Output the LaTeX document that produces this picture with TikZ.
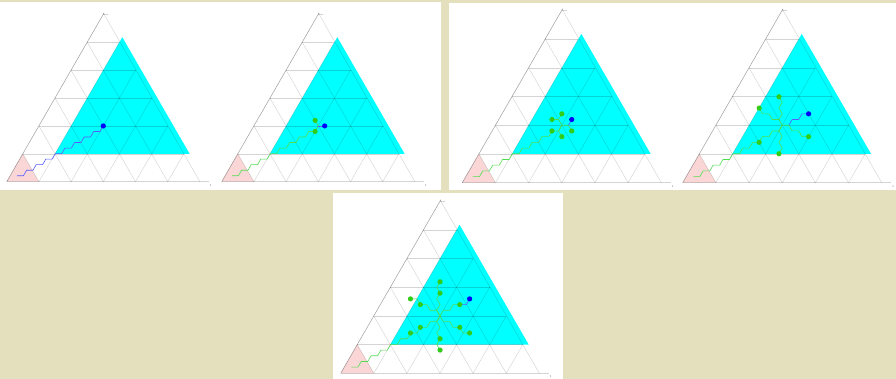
\documentclass[tikz,border=0pt]{standalone}
\usepackage{tikz}
\definecolor{bgbeige}{RGB}{228,224,189}
\definecolor{pinkfill}{RGB}{250,214,214}
\definecolor{cyanfill}{RGB}{0,255,255}
\definecolor{gline}{RGB}{80,222,80}
\definecolor{gdotc}{RGB}{50,205,25}
\definecolor{bline}{RGB}{90,90,255}
\definecolor{bdotc}{RGB}{0,0,255}
\def\tgS{32.2}
\def\tgH{27.886}
\def\wR{-- ++(6.39,0)}
\def\wL{-- ++(-6.39,0)}
\def\wUR{-- ++(3.195,-5.534)}
\def\wUL{-- ++(-3.195,-5.534)}
\def\wDR{-- ++(3.195,5.534)}
\def\wDL{-- ++(-3.195,5.534)}
\def\mainwalk{\wR\wUR\wR\wUR\wR\wUR\wR\wUR\wR\wUR\wR\wUR\wR\wUR\wR\wUR\wR\wUR}
\newcommand\trifills{%
  \fill[pinkfill] (0,0) -- ({\tgS},0) -- ({\tgS/2},{-\tgH}) -- cycle;
  \fill[cyanfill] ({1.5*\tgS},{-\tgH}) -- ({5.68*\tgS},{-\tgH}) -- ({3.59*\tgS},{-5.18*\tgH}) -- cycle;
}
\newcommand\trigrid{%
  \foreach \k in {1,...,5}{
    \draw[gridln] ({\tgS*\k/2},{-\tgH*\k}) -- ({\tgS*(6-\k/2)},{-\tgH*\k});
    \draw[gridln] ({\tgS*\k},0) -- ({\tgS*(\k+(6-\k)/2)},{-\tgH*(6-\k)});
    \draw[gridln] ({\tgS*\k},0) -- ({\tgS*\k/2},{-\tgH*\k});
  }
  \draw[gridln] (0,0) -- ({6*\tgS+9},0);
  \draw[gridln] ({6*\tgS},0) -- ({3*\tgS},{-6*\tgH-1.5});
  \draw[edgeln] (0,0) -- ({3*\tgS+0.8},{-6*\tgH-1.5});
  \draw[gridln] ({3*\tgS},{-6*\tgH}) -- ++(5,0);
  \node[ticklab] at ({6*\tgS+11},3.5) {1};
}
\begin{document}
\begin{tikzpicture}[x=1pt,y=-1pt,
  gridln/.style={draw=black,draw opacity=0.17,line width=0.45pt},
  edgeln/.style={draw=black,draw opacity=0.38,line width=0.5pt},
  gwalk/.style={draw=gline,line width=0.6pt,line join=round},
  bwalk/.style={draw=bline,line width=0.6pt,line join=round},
  gdot/.style={circle,fill=gdotc,inner sep=0pt,minimum size=5.2pt},
  bdot/.style={circle,fill=bdotc,inner sep=0pt,minimum size=5.2pt},
  ticklab/.style={font=\fontsize{3}{3}\selectfont,text=black!60,inner sep=0pt}]
\useasboundingbox (0,0) rectangle (896,379);
\fill[bgbeige] (0,0) rectangle (896,379);
\fill[white] (0,2.3) rectangle (441,190.3);
\fill[white] (449,2.7) rectangle (896,190.5);
\fill[white] (333.3,192.8) rectangle (563.3,379);

% ---------- panel 1 ----------
\begin{scope}[shift={(6.7,181.7)}]
  \trifills
  \trigrid
  \coordinate (S1) at (10.335,-5.964);
  \coordinate (C1) at (96.6,-55.77);
  \draw[bwalk] (S1) \mainwalk -- (C1);
  \node[bdot] (b1) at (C1) {};
\end{scope}

% ---------- panel 2 ----------
\begin{scope}[shift={(221.7,181.7)}]
  \trifills
  \trigrid
  \coordinate (S2) at (10.335,-5.964);
  \coordinate (C2) at (96.6,-55.77);
  \coordinate (p2l) at (93.405,-50.236);
  \draw[gwalk] (S2) \mainwalk -- (C2);
  \draw[gwalk] (C2) \wUL coordinate (p2u);
  \draw[bwalk] (C2) \wR coordinate (p2b);
  \node[gdot] (d2l) at (p2l) {};
  \node[gdot] (d2u) at (p2u) {};
  \node[bdot] (d2b) at (p2b) {};
\end{scope}

% ---------- panel 3 ----------
\begin{scope}[shift={(462.3,182.7)},scale=1.03]
  \trifills
  \trigrid
  \coordinate (S3) at (10.335,-5.964);
  \coordinate (C3) at (96.6,-55.77);
  \coordinate (p3ld) at (87.015,-50.236);
  \draw[gwalk] (S3) \mainwalk -- (C3);
  \draw[gwalk] (C3) \wUL coordinate (s3a) \wL coordinate (p3ul);
  \draw[gwalk] (s3a) \wUR coordinate (p3t);
  \draw[gwalk] (C3) \wR coordinate (s3b) \wDR coordinate (p3rd);
  \draw[bwalk] (s3b) \wUR coordinate (p3b);
  \draw[gwalk] (C3) \wDL coordinate (s3c) \wDR coordinate (p3bo);
  \foreach \p in {p3ld,p3ul,p3t,p3rd,p3bo}{\node[gdot] (d-\p) at (\p) {};}
  \node[bdot] (d3b) at (p3b) {};
\end{scope}

% ---------- panel 4 ----------
\begin{scope}[shift={(682.7,182.7)},scale=1.03]
  \trifills
  \trigrid
  \coordinate (S4) at (10.335,-5.964);
  \coordinate (C4) at (96.6,-55.77);
  \coordinate (p4ld) at (74.235,-39.168);
  \draw[gwalk] (S4) \mainwalk -- (C4);
  \draw[gwalk] (C4) \wUL coordinate (s4a) \wUR\wUL\wUR\wUL coordinate (p4t);
  \draw[gwalk] (s4a) \wL\wUL\wL\wUL coordinate (p4ul);
  \draw[gwalk] (C4) \wR coordinate (s4b) \wDR\wR\wDR\wR coordinate (p4rd);
  \draw[bwalk] (s4b) \wUR\wR\wUR\wR coordinate (p4b);
  \draw[gwalk] (C4) \wDL\wDR\wDL\wDR\wDL coordinate (p4bo);
  \foreach \p in {p4ld,p4ul,p4t,p4rd,p4bo}{\node[gdot] (d-\p) at (\p) {};}
  \node[bdot] (d4b) at (p4b) {};
\end{scope}

% ---------- panel 5 ----------
\begin{scope}[shift={(340.7,373.3)},scale=1.028]
  \trifills
  \trigrid
  \coordinate (S5) at (10.335,-5.964);
  \coordinate (C5) at (96.6,-55.77);
  \coordinate (p5ldi) at (77.43,-44.702);
  \coordinate (p5ldo) at (67.845,-39.168);
  \draw[gwalk] (S5) \mainwalk -- (C5);
  \draw[gwalk] (C5) \wUL\wUR\wUL\wUR coordinate (p5ti) \wUL\wUR coordinate (p5to);
  \draw[gwalk] (C5) \wUL\wL\wUL\wL coordinate (p5uli) \wUL\wL coordinate (p5ulo);
  \draw[gwalk] (C5) \wUR\wR\wUR\wR coordinate (p5rui);
  \draw[bwalk] (p5rui) \wR\wUR coordinate (p5b);
  \draw[gwalk] (C5) \wDR\wR\wDR\wR coordinate (p5rdi) \wDR\wR coordinate (p5rdo);
  \draw[gwalk] (C5) \wDL\wDR\wDL\wDR coordinate (p5boi) \wDL\wDR coordinate (p5boo);
  \foreach \p in {p5ldi,p5ldo,p5ti,p5to,p5uli,p5ulo,p5rui,p5rdi,p5rdo,p5boi,p5boo}{\node[gdot] (d-\p) at (\p) {};}
  \node[bdot] (d5b) at (p5b) {};
\end{scope}
\end{tikzpicture}
\end{document}
